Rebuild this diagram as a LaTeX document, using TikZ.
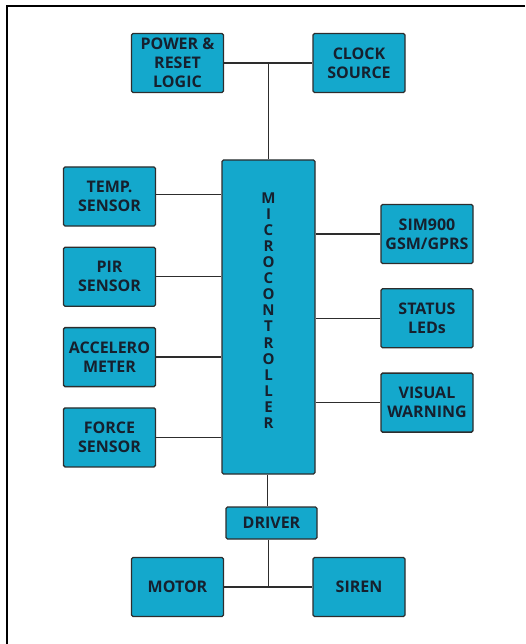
\documentclass[tikz,border=0pt]{standalone}
\usepackage{fontspec}
\setmainfont{Open Sans}
\usepackage{tikz}
\usetikzlibrary{positioning,calc}
\definecolor{blockblue}{RGB}{20,168,204}
\definecolor{textnavy}{RGB}{22,32,46}
\definecolor{linegray}{RGB}{45,45,45}
\tikzset{
  every picture/.append style={line width=1.3pt},
}
\begin{document}
\begin{tikzpicture}[
  x=1pt, y=1pt,
  node distance=20pt and 66pt,
  block/.style={rectangle, draw=linegray, line width=1.3pt, fill=blockblue, rounded corners=1.5pt, align=center, inner sep=1pt, font=\fontsize{16}{19}\selectfont\bfseries, text=textnavy, minimum width=92pt, minimum height=59pt},
  link/.style={draw=linegray, line width=1.3pt}
]
\useasboundingbox (0,0) rectangle (525,-644);

% Frame
\draw[line width=1.6pt, black] (7,-644) -- (7,-6) -- (525,-6);

% Microcontroller (central)
\node[block, minimum width=93pt, minimum height=314pt, font=\fontsize{15}{16.1}\selectfont\bfseries] (micro) at (268.5,-317)
  {M\\I\\C\\R\\O\\C\\O\\N\\T\\R\\O\\L\\L\\E\\R\\[-3pt]};

% Power and clock (top row)
\node[block] (power) at (177.5,-63) {POWER \&\\RESET\\LOGIC};
\node[block] (clock) at (359,-63) {CLOCK\\SOURCE};

% Sensors (left column)
\node[block] (temp) at (109.5,-196.5) {TEMP.\\SENSOR};
\node[block, below=of temp] (pir) {PIR\\SENSOR};
\node[block, below=of pir] (accel) {ACCELERO\\METER};
\node[block, below=of accel] (force) {FORCE\\SENSOR};

% Outputs (right column)
\node[block] (sim) at (427,-234) {SIM900\\GSM/GPRS};
\node[block, below=24pt of sim] (status) {STATUS\\LEDs};
\node[block, below=24pt of status] (visual) {VISUAL\\WARNING};

% Driver and actuators
\node[block, minimum width=91pt, minimum height=32pt] (driver) at (271.5,-523) {DRIVER};
\node[block] (motor) at (177.5,-587) {MOTOR};
\node[block] (siren) at (359,-587) {SIREN};

% Top bus
\coordinate (topj) at ($(power.east)!0.5!(clock.west)$);
\draw[link] (power.east) -- (clock.west);
\draw[link] (topj) -- (topj |- micro.north);

% Sensors -> microcontroller
\draw[link] ([yshift=2pt]temp.east) -- ([yshift=2pt]temp.east -| micro.west);
\draw[link] (pir.east) -- (pir.east -| micro.west);
\draw[link] (accel.east) -- (accel.east -| micro.west);
\draw[link] (force.east) -- (force.east -| micro.west);

% Microcontroller -> outputs
\draw[link] (sim.west) -- (sim.west -| micro.east);
\draw[link] (status.west) -- (status.west -| micro.east);
\draw[link] (visual.west) -- (visual.west -| micro.east);

% Driver branch
\coordinate (botj) at ($(motor.east)!0.5!(siren.west)$);
\draw[link] ([xshift=-4pt]driver.south |- micro.south) -- ([xshift=-4pt]driver.north);
\draw[link] (driver.south -| botj) -- (botj);
\draw[link] (motor.east) -- (siren.west);

\end{tikzpicture}
\end{document}
